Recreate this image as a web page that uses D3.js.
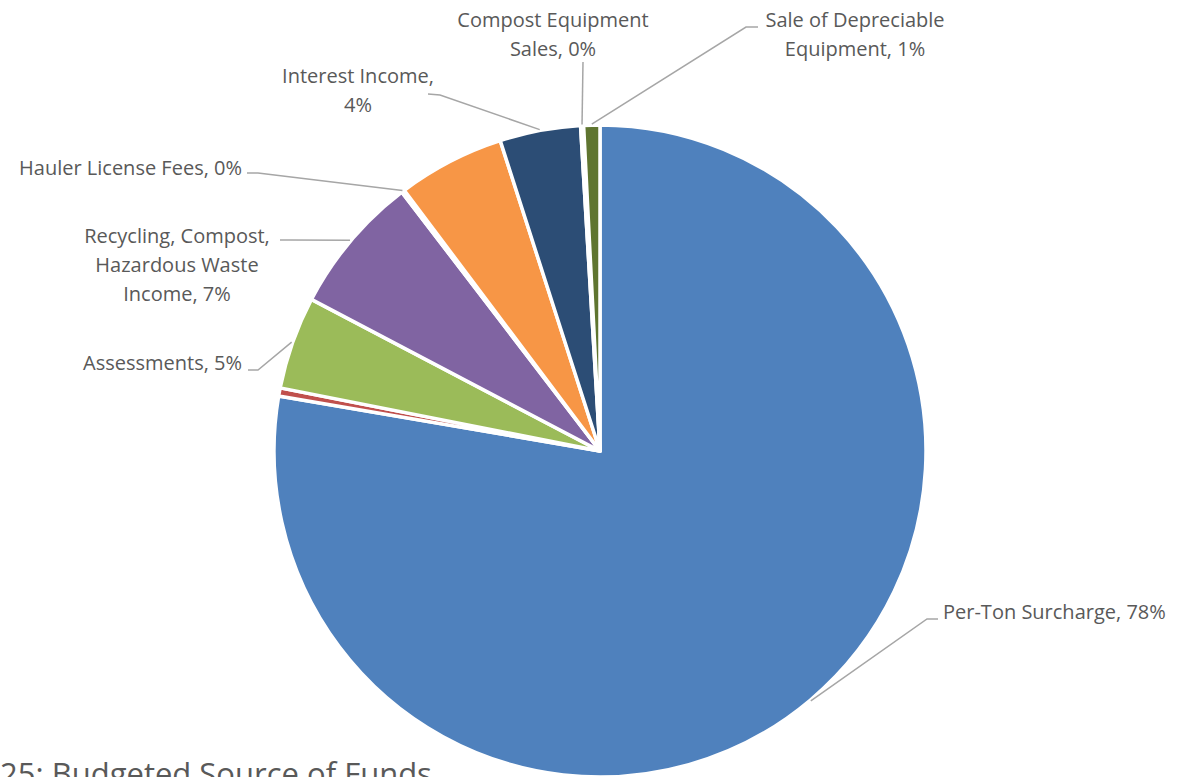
<!DOCTYPE html>
<html>
<head>
<meta charset="utf-8">
<script src="https://cdn.jsdelivr.net/npm/d3@7"></script>
<style>
  body { margin: 0; background: #fff; }
  svg { display: block; }
  .slice-label { font-family: "Open Sans", Lato, sans-serif; font-size: 20px; fill: #595959; }
  .leader { fill: none; stroke: #A6A6A6; stroke-width: 1.5; }
  .caption { font-family: "Open Sans", Lato, sans-serif; font-size: 31px; fill: #595959; }
</style>
</head>
<body>
<div id="chart"></div>
<script>
// slice data, clockwise from 12 o'clock (percent of total)
const sources = ["Per-Ton Surcharge", "", "Assessments", "Recycling, Compost, Hazardous Waste Income",
                 "Hauler License Fees", "", "Interest Income", "Compost Equipment Sales", "Sale of Depreciable Equipment"];
const shares = [77.7, 0.4, 4.6, 6.9, 0.15, 5.3, 4.0, 0.15, 0.8];
const shownPct = ["78%", "", "5%", "7%", "0%", "", "4%", "0%", "1%"];
const colors = ["#4F81BD", "#C0504D", "#9BBB59", "#8064A2", "#4BACC6", "#F79646", "#2C4D75", "#772C2A", "#5F7530"];

// label layout: text lines, anchor, first baseline, and leader elbow points
const labelLayout = [
  {i: 0, lines: ["Per-Ton Surcharge, 78%"], x: 943, y: 619, anchor: "start", path: [[938, 619], [927, 619]]},
  {i: 2, lines: ["Assessments, 5%"], x: 242, y: 370, anchor: "end", path: [[248, 370], [258, 370]]},
  {i: 3, lines: ["Recycling, Compost,", "Hazardous Waste", "Income, 7%"], x: 177, y: 243, anchor: "middle", path: [[280, 240], [290, 240]]},
  {i: 4, lines: ["Hauler License Fees, 0%"], x: 242, y: 175, anchor: "end", path: [[247, 173], [258, 173]]},
  {i: 6, lines: ["Interest Income,", "4%"], x: 358, y: 83, anchor: "middle", path: [[428, 94], [440, 95]]},
  {i: 7, lines: ["Compost Equipment", "Sales, 0%"], x: 553, y: 27, anchor: "middle", path: [[583, 62]]},
  {i: 8, lines: ["Sale of Depreciable", "Equipment, 1%"], x: 855, y: 27, anchor: "middle", path: [[758, 27], [746, 27]]}
];

const width = 1188, height = 777;
const cx = 600, cy = 451, radius = 326;

const svg = d3.select("#chart").append("svg")
    .attr("width", width)
    .attr("height", height);

const pie = d3.pie()
    .sort(null)
    .value(d => d);

const arcs = pie(shares);

const arc = d3.arc()
    .innerRadius(0)
    .outerRadius(radius);

// point on the rim at a slice's mid angle
const rim = d3.arc()
    .innerRadius(radius + 1)
    .outerRadius(radius + 1);

const g = svg.append("g")
    .attr("transform", "translate(" + cx + "," + cy + ")");

g.selectAll("path.slice")
    .data(arcs)
    .enter()
    .append("path")
    .attr("class", "slice")
    .attr("d", arc)
    .attr("fill", (d, i) => colors[i])
    .attr("stroke", "#fff")
    .attr("stroke-width", 3.5)
    .attr("stroke-linejoin", "round");

// leader lines
const line = d3.line();
svg.selectAll("path.leader")
    .data(labelLayout)
    .enter()
    .append("path")
    .attr("class", "leader")
    .attr("d", d => {
        const c = rim.centroid(arcs[d.i]);
        return line(d.path.concat([[cx + c[0], cy + c[1]]]));
    });

// labels
const labels = svg.selectAll("text.slice-label")
    .data(labelLayout)
    .enter()
    .append("text")
    .attr("class", "slice-label")
    .attr("text-anchor", d => d.anchor);

labels.selectAll("tspan")
    .data(d => d.lines.map((t, k) => ({t: t, k: k, x: d.x, y: d.y})))
    .enter()
    .append("tspan")
    .attr("x", d => d.x)
    .attr("y", d => d.y + d.k * 29)
    .text(d => d.t);

svg.append("text")
    .attr("class", "caption")
    .attr("x", 0)
    .attr("y", 785)
    .text("25: Budgeted Source of Funds");
</script>
</body>
</html>
